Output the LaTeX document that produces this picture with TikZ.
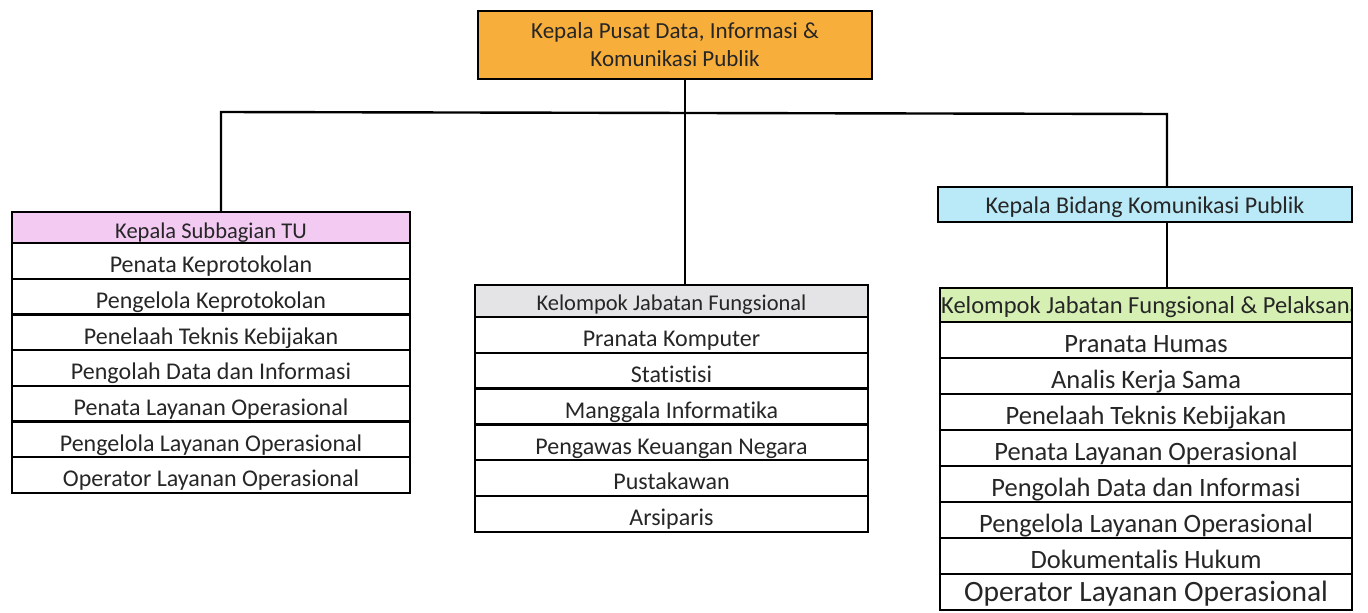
\documentclass[tikz,border=0pt]{standalone}
\usepackage{fontspec}
\setmainfont{Carlito}[Ligatures=NoCommon]
\usetikzlibrary{positioning}
\definecolor{orangehead}{RGB}{248,174,58}
\definecolor{pinkhead}{RGB}{242,202,242}
\definecolor{grayhead}{RGB}{228,228,230}
\definecolor{bluehead}{RGB}{186,234,248}
\definecolor{greenhead}{RGB}{214,240,180}
\tikzset{
  cell/.style={draw, line width=2.4pt, outer sep=0pt, inner sep=0pt, text=black!85, text depth=0pt},
  headtext/.style={font=\fontsize{22.5}{27}\selectfont, text height=22pt},
  rowtext/.style={font=\fontsize{24}{28}\selectfont, text height=23.5pt},
  bigrowtext/.style={font=\fontsize{26.5}{30}\selectfont, text height=25.5pt},
  link/.style={draw, line width=2.4pt},
}
\begin{document}
\begin{tikzpicture}[x=1pt,y=-1pt]
		\useasboundingbox (0,0) rectangle (1368,613);
		
		%%%%% TOP %%%%%
		\node[draw, line width=2.4pt, outer sep=0pt, inner sep=0pt, text=black!85, fill=orangehead,
		      minimum width=394pt, minimum height=68pt, align=center,
		      font=\fontsize{23}{28}\selectfont] (kapus) at (675,45)
		      {Kepala Pusat Data, Informasi \&\\Komunikasi Publik};
		
		%%%%% SUBBAGIAN TU %%%%%
		\node[cell, fill=pinkhead, headtext, minimum width=398pt, minimum height=31pt, anchor=north] (tu-0) at (211,212) {Kepala Subbagian TU};
		\foreach \t [count=\i, remember=\i as \j (initially 0)] in {Penata Keprotokolan, Pengelola Keprotokolan, Penelaah Teknis Kebijakan, Pengolah Data dan Informasi, Penata Layanan Operasional, Pengelola Layanan Operasional, Operator Layanan Operasional}
			\node[cell, rowtext, minimum width=398pt, minimum height=35.7pt, below=0pt of tu-\j] (tu-\i) {\t};
		
		%%%%% JABATAN FUNGSIONAL %%%%%
		\node[cell, fill=grayhead, headtext, text height=19.5pt, minimum width=393pt, minimum height=32pt, anchor=north] (kjf-0) at (671.5,285) {Kelompok Jabatan Fungsional};
		\foreach \t [count=\i, remember=\i as \j (initially 0)] in {Pranata Komputer, Statistisi, Manggala Informatika, Pengawas Keuangan Negara, Pustakawan, Arsiparis}
			\node[cell, rowtext, minimum width=393pt, minimum height=35.8pt, below=0pt of kjf-\j] (kjf-\i) {\t};
		
		%%%%% BIDANG KOMUNIKASI PUBLIK %%%%%
		\node[cell, fill=bluehead, font=\fontsize{24}{28}\selectfont, text height=17.5pt, minimum width=414pt, minimum height=35pt] (kbkp) at (1145,204.5) {Kepala Bidang Komunikasi Publik};
		
		\node[cell, fill=greenhead, minimum width=412pt, minimum height=34pt, anchor=north] (kp-0) at (1146,288) {};
		\begin{scope}
			\clip ([xshift=1.2pt,yshift=-1.2pt]kp-0.north west) rectangle ([xshift=-1.2pt,yshift=1.2pt]kp-0.south east);
			\node[anchor=west, inner sep=0pt, font=\fontsize{24.5}{28}\selectfont, text height=17pt, text depth=0pt, text=black!85] (kp-title) at ([xshift=1pt]kp-0.west) {Kelompok Jabatan Fungsional \& Pelaksana};
		\end{scope}
		\foreach \t [count=\i, remember=\i as \j (initially 0)] in {Pranata Humas, Analis Kerja Sama, Penelaah Teknis Kebijakan, Penata Layanan Operasional, Pengolah Data dan Informasi, Pengelola Layanan Operasional, Dokumentalis Hukum}
			\node[cell, bigrowtext, minimum width=412pt, minimum height=36pt, below=0pt of kp-\j] (kp-\i) {\t};
		\node[cell, font=\fontsize{29.5}{32}\selectfont, text height=19pt, minimum width=412pt, minimum height=36pt, below=0pt of kp-7] (kp-8) {Operator Layanan Operasional};
		
		%%%%% LINES %%%%%
		\coordinate (busL) at (221,112);
		\coordinate (busM) at (685,112);
		\coordinate (busR) at (1167,114);
		\draw[link] (busL |- tu-0.north) -- (busL) -- (busR) -- (busR |- kbkp.north);
		\draw[link] (busM |- kapus.south) -- (busM |- kjf-0.north);
		\draw[link] (busR |- kbkp.south) -- (busR |- kp-0.north);
		
	\end{tikzpicture}
\end{document}
